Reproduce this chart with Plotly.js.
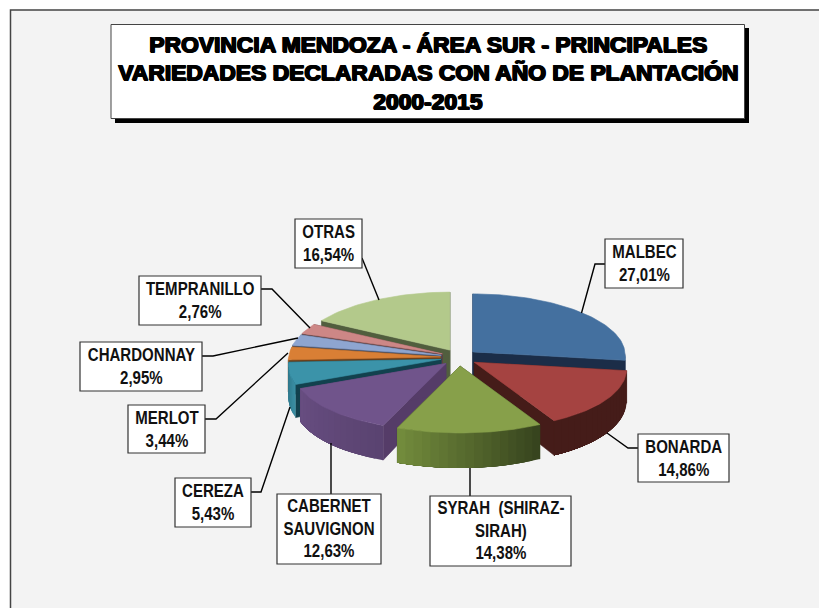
<!DOCTYPE html>
<html>
<head>
<meta charset="utf-8">
<script src="https://cdn.plot.ly/plotly-3.0.1.min.js"></script>
<style>html,body{margin:0;padding:0;background:#fff}#chart{width:819px;height:608px}</style>
</head>
<body>
<div id="chart"></div>
<script>
// ---- data ----
const varieties = ["MALBEC","BONARDA","SYRAH  (SHIRAZ-<br>SIRAH)","CABERNET<br>SAUVIGNON","CEREZA","MERLOT","CHARDONNAY","TEMPRANILLO","OTRAS"];
const shares = [27.01,14.86,14.38,12.63,5.43,3.44,2.95,2.76,16.54];
const titleLines = ["PROVINCIA MENDOZA - ÁREA SUR - PRINCIPALES","VARIEDADES DECLARADAS CON AÑO DE PLANTACIÓN","2000-2015"];

// ---- styles ----
const topColors  = ["#44709f","#a54341","#87a04a","#70548b","#3b93a9","#d97f35","#8ea5d0","#cd8786","#b3c98b"];
const faceColors = ["#1b2d48","#451c19","#37461f","#553c68","#12414e","#6b3f1a","#454f66","#5f3f3f","#515e3e"];
const wallFrom   = ["#1b2d48","#451c19","#35421d","#5a4370","#3a8ea3","#b06a2c","#6f82a5","#a06a6a","#8ea06e"];
const wallTo     = ["#1b2d48","#451c19","#748d3d","#674d81","#2a6f82","#b06a2c","#6f82a5","#a06a6a","#8ea06e"];

// ---- label boxes: [left, top, right, bottom] and leader polylines ----
const boxes = [[605,239,683,288],[638,434,729,482],[430,496,571,566],[277,494,381,564],[175,478,251,527],[128,405,205,453],[80,342,202,391],[139,276,261,325],[295,219,362,268]];
const leaders = [
 [[605,264],[595,264],[581.5,313]],
 [[638,448],[628,448],[607,433]],
 [[470,496],[470,468]],
 [[331,494],[331,443]],
 [[251,492],[261,492],[290,407]],
 [[205,419],[216,419],[288,353]],
 [[202,356],[213,356],[298,338]],
 [[261,289],[272,289],[310,328]],
 [[362,258],[379,300]]
];

// ---- pie projection ----
const centre = [459,357.5], pull = [18.4,8.5];
const rad = d => d*Math.PI/180;
function rim(apex, deg){
  const u = Math.sin(rad(deg)), v = -Math.cos(rad(deg));
  const rx = v>0 ? 152+13*v : 152+6*v;
  const ry = v>0 ? 67 : 58;
  return [apex[0]+u*rx, apex[1]+v*ry, 32+3*Math.max(v,0)];
}
function hex2(c){return [1,3,5].map(i=>parseInt(c.substr(i,2),16));}
function mix(a,b,t){const A=hex2(a),B=hex2(b);return "rgb("+A.map((x,i)=>Math.round(x+(B[i]-x)*t)).join(",")+")";}
function poly(xs,ys,color,lw){
  return {type:"scatter",mode:"lines",x:xs.concat(xs[0]),y:ys.concat(ys[0]),fill:"toself",fillcolor:color,
          line:{color:color,width:lw===undefined?0.6:lw},hoverinfo:"skip",showlegend:false};
}
const total = shares.reduce((a,b)=>a+b,0);
let acc = 0;
const slices = shares.map((s,i)=>{
  const a0 = acc/total*360; acc += s; const a1 = acc/total*360; const mid=(a0+a1)/2;
  const apex=[centre[0]+Math.sin(rad(mid))*pull[0], centre[1]-Math.cos(rad(mid))*pull[1]];
  return {i,a0,a1,mid,apex};
});
slices.sort((p,q)=>Math.abs(q.mid-180)-Math.abs(p.mid-180));
const traces = [];
slices.forEach(sl=>{
  const {i,a0,a1,apex}=sl;
  const apexDepth = 30;
  // cut faces
  [a0,a1].forEach(a=>{
    const e=rim(apex,a);
    traces.push(poly([apex[0],e[0],e[0],apex[0]],[apex[1],e[1],e[1]+e[2],apex[1]+apexDepth],faceColors[i]));
  });
  // outer wall: strips overlap their neighbour so no seams show
  const lo=Math.max(a0,90), hi=Math.min(a1,270);
  if(hi>lo){
    const n=Math.max(1,Math.round((hi-lo)/3));
    for(let k=0;k<n;k++){
      const b0=lo+(hi-lo)*k/n, b1=hi;
      const step=(b1-b0)/8;
      const xs=[],ys=[];
      for(let t=0;t<=8;t++){const p=rim(apex,b0+step*t);xs.push(p[0]);ys.push(p[1]);}
      for(let t=8;t>=0;t--){const p=rim(apex,b0+step*t);xs.push(p[0]);ys.push(p[1]+p[2]);}
      const tr=poly(xs,ys,mix(wallFrom[i],wallTo[i],(k+0.5)/n),0);
      tr.mode="none";
      traces.push(tr);
    }
  }
  // top surface
  const xs=[apex[0]],ys=[apex[1]];
  for(let a=a0;a<a1;a+=1.5){const p=rim(apex,a);xs.push(p[0]);ys.push(p[1]);}
  const p=rim(apex,a1);xs.push(p[0]);ys.push(p[1]);
  traces.push(poly(xs,ys,topColors[i]));
});

// ---- chrome ----
const shapes = [
 {type:"rect",xref:"x",yref:"y",x0:10.5,y0:10,x1:830,y1:620,fillcolor:"#f3f3f3",line:{color:"#444",width:1.5},layer:"below"},
 {type:"rect",xref:"x",yref:"y",x0:115,y0:28,x1:749,y1:123,fillcolor:"#000",line:{width:0},layer:"below"},
 {type:"rect",xref:"x",yref:"y",x0:111,y0:24.5,x1:744.5,y1:118.5,fillcolor:"#fff",line:{color:"#444",width:1},layer:"below"}
];
leaders.forEach(l=>{
  shapes.push({type:"path",xref:"x",yref:"y",layer:"above",line:{color:"#000",width:1.4},
    path:"M"+l.map(p=>p.join(",")).join("L")});
});
boxes.forEach(b=>{
  shapes.push({type:"rect",xref:"x",yref:"y",layer:"above",x0:b[0],y0:b[1],x1:b[2],y1:b[3],fillcolor:"#fff",line:{color:"#333",width:1.2}});
});
const labelFont = "'Liberation Sans',Arial,sans-serif";
const annotations = [];
shares.forEach((s,i)=>{
  const b=boxes[i];
  annotations.push({xref:"x",yref:"y",x:(b[0]+b[2])/2,y:(b[1]+b[3])/2,xanchor:"center",yanchor:"middle",
    borderpad:0,borderwidth:0,showarrow:false,align:"center",
    font:{family:labelFont,size:17.5,color:"#111",weight:700},
    text:"<b>"+varieties[i]+"<br>"+s.toFixed(2).replace(".",",")+"%</b>"});
});
const titleY=[43.5,72,100.5];
titleLines.forEach((t,i)=>{
  annotations.push({xref:"x",yref:"y",x:427.5,y:titleY[i],xanchor:"center",yanchor:"middle",showarrow:false,
    font:{family:"'Liberation Sans',Arial,sans-serif",size:22.85,color:"#000",weight:700,shadow:"1px 1px 0 #000, 1px 0 0 #000, 0 1px 0 #000, -0.6px 0 0 #000"},
    text:"<b>"+t+"</b>"});
});
const layout = {
  width:819,height:608,margin:{l:0,r:0,t:0,b:0,pad:0},paper_bgcolor:"#fff",plot_bgcolor:"rgba(0,0,0,0)",showlegend:false,
  xaxis:{range:[0,819],visible:false,fixedrange:true},
  yaxis:{range:[608,0],visible:false,fixedrange:true},
  shapes,annotations,hovermode:false
};
Plotly.newPlot("chart",traces,layout,{displayModeBar:false,staticPlot:true}).then(gd=>{
  // the reference's label lettering is condensed: squeeze only the boxed labels horizontally
  const texts=gd.querySelectorAll(".annotation-text");
  texts.forEach((el,i)=>{
    if(i>=shares.length) return;
    const bb=el.getBBox(), cx=bb.x+bb.width/2;
    el.setAttribute("transform","translate("+cx+",0) scale(0.86,1) translate("+(-cx)+",0)");
  });
});
</script>
</body>
</html>
